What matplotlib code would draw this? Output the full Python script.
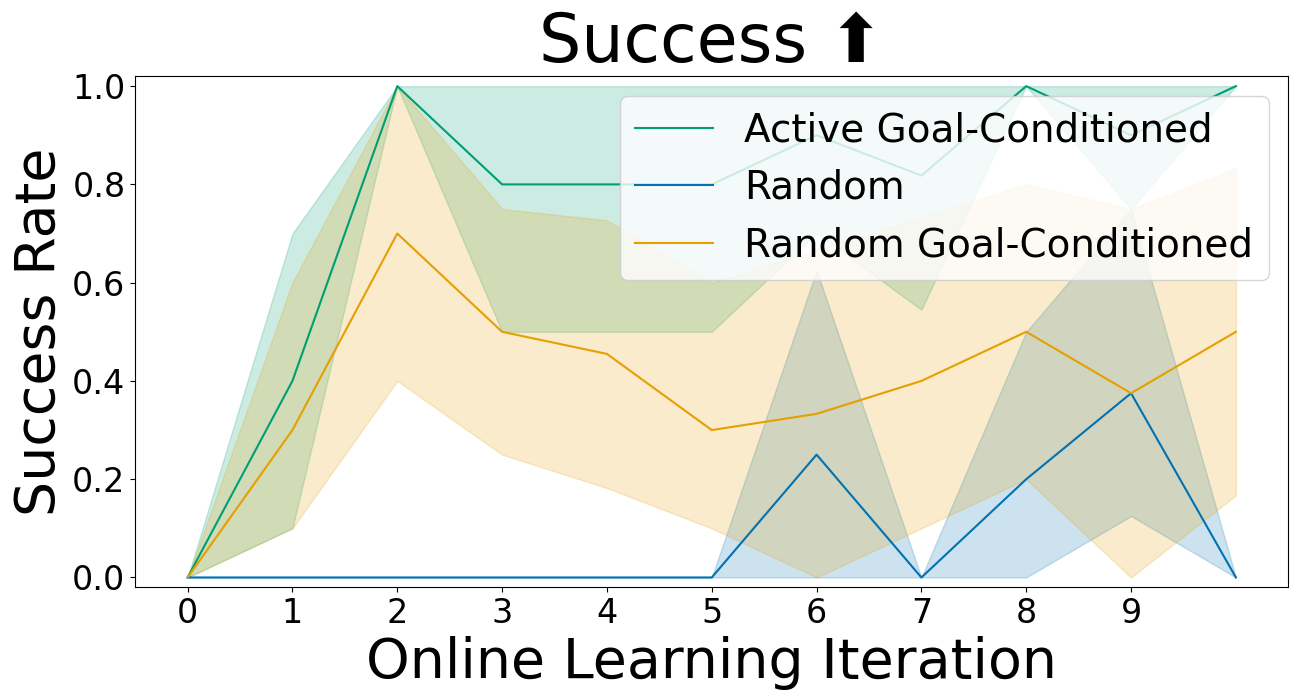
import matplotlib.pyplot as plt

iterations = [0, 1, 2, 3, 4, 5, 6, 7, 8, 9, 10]

active_gc_mean = [0.0, 0.4, 1.0, 0.8, 0.8, 0.8, 0.9, 0.818, 1.0, 0.9, 1.0]
active_gc_low = [0.0, 0.1, 1.0, 0.5, 0.5, 0.5, 0.7, 0.545, 1.0, 0.75, 1.0]
active_gc_high = [0.0, 0.7, 1.0, 1.0, 1.0, 1.0, 1.0, 1.0, 1.0, 1.0, 1.0]

random_mean = [0.0, 0.0, 0.0, 0.0, 0.0, 0.0, 0.25, 0.0, 0.2, 0.375, 0.0]
random_low = [0.0, 0.0, 0.0, 0.0, 0.0, 0.0, 0.0, 0.0, 0.0, 0.125, 0.0]
random_high = [0.0, 0.0, 0.0, 0.0, 0.0, 0.0, 0.625, 0.0, 0.5, 0.75, 0.0]

random_gc_mean = [0.0, 0.3, 0.7, 0.5, 0.455, 0.3, 0.333, 0.4, 0.5, 0.375, 0.5]
random_gc_low = [0.0, 0.1, 0.4, 0.25, 0.182, 0.1, 0.0, 0.1, 0.2, 0.0, 0.167]
random_gc_high = [0.0, 0.6, 1.0, 0.75, 0.727, 0.6, 0.667, 0.733, 0.8, 0.75, 0.833]

tick_positions = [0, 1, 2, 3, 4, 5, 6, 7, 8, 9]

series = [
    ("Active Goal-Conditioned", "#009e73", active_gc_mean, active_gc_low, active_gc_high),
    ("Random", "#0072b2", random_mean, random_low, random_high),
    ("Random Goal-Conditioned", "#e69f00", random_gc_mean, random_gc_low, random_gc_high),
]

if __name__ == "__main__":
    fig, ax = plt.subplots(figsize=(13, 7), dpi=100)
    fig.subplots_adjust(left=0.104, right=0.991, bottom=0.161, top=0.891)

    for label, color, mean, low, high in series:
        ax.plot(iterations, mean, color=color, linewidth=1.5, label=label)
        ax.fill_between(iterations, low, high, color=color, alpha=0.2)

    ax.set_title("Success ⬆", fontsize=48)
    ax.set_xlabel("Online Learning Iteration", fontsize=40)
    ax.set_ylabel("Success Rate", fontsize=40)
    ax.set_xticks(tick_positions)
    ax.tick_params(labelsize=24)
    ax.set_xlim(-0.5, 10.5)
    ax.set_ylim(-0.02, 1.02)
    ax.legend(loc="upper right", fontsize=28)

    fig.savefig("out.png")
